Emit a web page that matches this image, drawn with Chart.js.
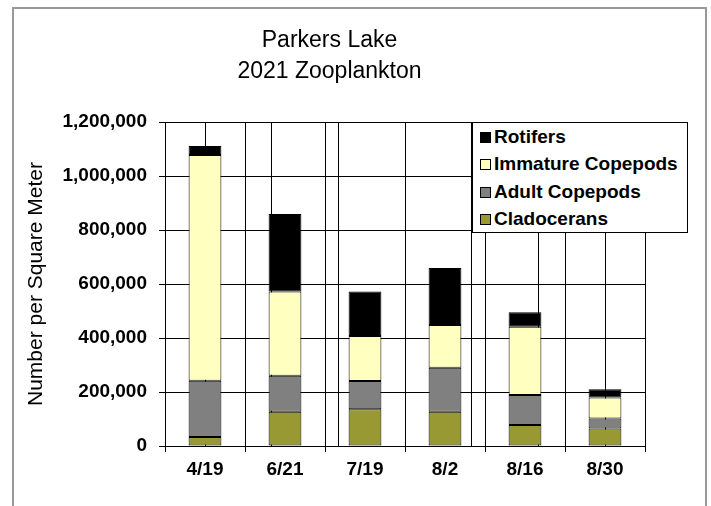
<!DOCTYPE html>
<html>
<head>
<meta charset="utf-8">
<script src="https://cdn.jsdelivr.net/npm/chart.js@4"></script>
<style>
  body { margin: 0; background: #fff; }
  #wrap { position: relative; width: 711px; height: 506px; overflow: hidden; }
  #frame { position: absolute; left: 12px; top: 7px; width: 695px; height: 600px;
           box-sizing: border-box; border: 2px solid #999; }
  canvas { position: absolute; left: 0; top: 0; }
  #legend { position: absolute; left: 472px; top: 122px; width: 216px; height: 111px;
            box-sizing: border-box; border: 1px solid #000; background: #fff;
            font: bold 19px 'Liberation Sans', Arial, sans-serif; color: #000; }
  #legend div { height: 27.4px; line-height: 27.4px; white-space: nowrap; padding-left: 7px; }
  #legend span { display: inline-block; width: 11px; height: 11px; box-sizing: border-box;
                 border: 1px solid #000; margin-right: 3px; vertical-align: 0px; }
</style>
</head>
<body>
<div id="wrap">
  <div id="frame"></div>
  <canvas id="zooChart" width="711" height="506"></canvas>
  <div id="legend"></div>
</div>
<script>
const dates = ['4/19', '6/21', '7/19', '8/2', '8/16', '8/30'];
const cladocerans = [33000, 127000, 136000, 127000, 78000, 65000];
const adultCopepods = [209000, 133000, 105000, 163000, 111000, 37000];
const immatureCopepods = [836000, 312000, 166000, 158000, 253000, 78000];
const rotifers = [33000, 287000, 165000, 211000, 53000, 30000];
const yTicks = [0, 200000, 400000, 600000, 800000, 1000000, 1200000];

const font = "'Liberation Sans', Arial, sans-serif";

document.addEventListener('DOMContentLoaded', function() {
    const ctx = document.getElementById('zooChart').getContext('2d');
    const bar = (label, data, color) => ({
        label: label,
        data: data,
        backgroundColor: color,
        borderColor: '#000',
        borderWidth: 1,
        borderSkipped: false,
        barPercentage: 0.41,
        categoryPercentage: 1
    });

    const chart = new Chart(ctx, {
        type: 'bar',
        data: {
            labels: dates,
            datasets: [
                bar('Cladocerans', cladocerans, '#999933'),
                bar('Adult Copepods', adultCopepods, '#808080'),
                bar('Immature Copepods', immatureCopepods, '#ffffc0'),
                bar('Rotifers', rotifers, '#000000')
            ]
        },
        options: {
            responsive: false,
            animation: false,
            layout: { padding: { left: 14, right: 66, top: 0, bottom: 20 } },
            scales: {
                x: {
                    stacked: true,
                    grid: { color: '#000', lineWidth: 1, tickLength: 6, offset: true },
                    border: { color: '#000' },
                    ticks: { color: '#000', padding: 6, font: { family: font, size: 19, weight: 'bold' } },
                    afterFit: function(scale) { scale.height = 40; }
                },
                // helper axis: grid lines through the bar centres
                xc: {
                    type: 'linear',
                    position: 'bottom',
                    min: -0.5,
                    max: dates.length - 0.5,
                    grid: { color: '#000', lineWidth: 1, drawTicks: false },
                    border: { display: false },
                    ticks: { display: false },
                    afterBuildTicks: function(scale) {
                        scale.ticks = dates.map((d, i) => ({ value: i }));
                    },
                    afterFit: function(scale) { scale.height = 0; }
                },
                y: {
                    stacked: true,
                    min: 0,
                    max: yTicks[yTicks.length - 1],
                    afterBuildTicks: function(scale) {
                        scale.ticks = yTicks.map(v => ({ value: v }));
                    },
                    grid: { color: '#000', lineWidth: 1, tickLength: 6 },
                    border: { color: '#000' },
                    ticks: {
                        color: '#000',
                        padding: 12,
                        font: { family: font, size: 19, weight: 'bold' },
                        callback: v => v.toLocaleString('en-US')
                    },
                    title: {
                        display: true,
                        text: 'Number per Square Meter',
                        color: '#000',
                        padding: { top: 10, bottom: 0 },
                        font: { family: font, size: 21, weight: 'normal' }
                    },
                    afterFit: function(scale) { scale.width = 151; }
                }
            },
            plugins: {
                legend: { display: false },
                tooltip: { enabled: false },
                title: {
                    display: true,
                    text: ['Parkers Lake', '2021 Zooplankton'],
                    color: '#000',
                    padding: { top: 25.5, bottom: 34.5 },
                    font: { family: font, size: 23, weight: 'normal', lineHeight: '31px' }
                }
            }
        }
    });

    // legend, top entry = top of the stack
    const legend = document.getElementById('legend');
    chart.data.datasets.slice().reverse().forEach(function(ds) {
        const row = document.createElement('div');
        const box = document.createElement('span');
        box.style.background = ds.backgroundColor;
        row.appendChild(box);
        row.appendChild(document.createTextNode(ds.label));
        legend.appendChild(row);
    });
});
</script>
</body>
</html>
